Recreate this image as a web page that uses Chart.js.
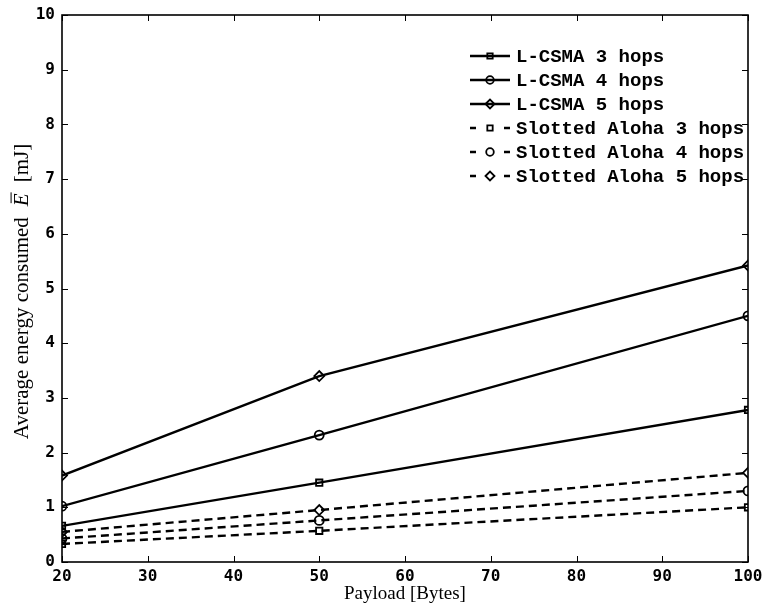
<!DOCTYPE html>
<html lang="en">

<head>
    <meta charset="UTF-8">
    <title>Average energy consumed</title>
    <script src="https://cdn.jsdelivr.net/npm/chart.js"></script>
    <style>
        html, body { margin: 0; padding: 0; background: #fff; }
        #wrap { width: 765px; height: 605px; }
    </style>
</head>

<body>
    <div id="wrap">
        <canvas id="energyChart" width="765" height="605"></canvas>
    </div>

    <script>
        // data
        const payload = [20, 50, 100];
        const csma3 = [0.66, 1.45, 2.78];
        const csma4 = [1.02, 2.32, 4.50];
        const csma5 = [1.58, 3.40, 5.42];
        const aloha3 = [0.33, 0.57, 1.00];
        const aloha4 = [0.43, 0.76, 1.30];
        const aloha5 = [0.55, 0.95, 1.63];
        const seriesNames = ['L-CSMA 3 hops', 'L-CSMA 4 hops', 'L-CSMA 5 hops',
            'Slotted Aloha 3 hops', 'Slotted Aloha 4 hops', 'Slotted Aloha 5 hops'];
        const xTicks = [20, 30, 40, 50, 60, 70, 80, 90, 100];
        const yTicks = [0, 1, 2, 3, 4, 5, 6, 7, 8, 9, 10];

        const allSeries = [csma3, csma4, csma5, aloha3, aloha4, aloha5];
        const markers = ['rect', 'circle', 'rectRot', 'rect', 'circle', 'rectRot'];

        function makeDataset(i) {
            return {
                label: seriesNames[i],
                data: payload.map((x, j) => ({ x: x, y: allSeries[i][j] })),
                borderColor: '#000',
                borderWidth: 2.4,
                borderDash: i >= 3 ? [8, 5] : [],
                pointStyle: markers[i],
                pointRadius: markers[i] === 'rectRot' ? 5 : 4.5,
                pointBorderWidth: 1.8,
                pointBorderColor: '#000',
                pointBackgroundColor: 'rgba(0,0,0,0)',
                fill: false,
                tension: 0
            };
        }

        // box around the plot and inward ticks on all four sides
        const boxPlugin = {
            id: 'box',
            afterDatasetsDraw(chart) {
                const c = chart.ctx;
                const a = chart.chartArea;
                const xs = chart.scales.x, ys = chart.scales.y;
                c.save();
                c.strokeStyle = '#000';
                c.lineWidth = 1.6;
                c.setLineDash([]);
                c.strokeRect(a.left, a.top, a.right - a.left, a.bottom - a.top);
                c.lineWidth = 1;
                c.beginPath();
                xTicks.forEach(v => {
                    const px = Math.round(xs.getPixelForValue(v)) + 0.5;
                    c.moveTo(px, a.bottom); c.lineTo(px, a.bottom - 6);
                    c.moveTo(px, a.top); c.lineTo(px, a.top + 6);
                });
                yTicks.forEach(v => {
                    const py = Math.round(ys.getPixelForValue(v)) + 0.5;
                    c.moveTo(a.left, py); c.lineTo(a.left + 6, py);
                    c.moveTo(a.right, py); c.lineTo(a.right - 6, py);
                });
                c.stroke();
                c.restore();
            }
        };

        // y title with an italic E-bar, drawn rotated beside the axis
        const yTitlePlugin = {
            id: 'yTitle',
            afterDraw(chart) {
                const c = chart.ctx;
                const a = chart.chartArea;
                const size = 21;
                const plain = size + 'px "Liberation Serif", "Times New Roman", serif';
                const ital = 'italic ' + plain;
                const parts = [
                    { t: 'Average energy consumed', f: plain },
                    { t: 'E', f: ital, bar: true },
                    { t: '[mJ]', f: plain }
                ];
                const gap = 11;
                let total = 0;
                parts.forEach(p => { c.font = p.f; p.w = c.measureText(p.t).width; total += p.w; });
                total += gap * (parts.length - 1);
                c.save();
                c.translate(22, (a.top + a.bottom) / 2 + 3);
                c.rotate(-Math.PI / 2);
                c.fillStyle = '#000';
                c.strokeStyle = '#000';
                c.textBaseline = 'middle';
                let x = -total / 2;
                parts.forEach(p => {
                    c.font = p.f;
                    c.fillText(p.t, x, 0);
                    if (p.bar) {
                        c.lineWidth = 1;
                        c.beginPath();
                        c.moveTo(x + 3, -size * 0.52);
                        c.lineTo(x + p.w + 1, -size * 0.52);
                        c.stroke();
                    }
                    x += p.w + gap;
                });
                c.restore();
            }
        };

        // legend: short line with the marker in the middle, then the name
        const legendPlugin = {
            id: 'lineLegend',
            afterDraw(chart) {
                const c = chart.ctx;
                const x0 = 470, x1 = 510, textX = 516;
                const y0 = 56, dy = 24;
                c.save();
                c.font = 'bold 19px "Liberation Mono", "Courier New", monospace';
                c.textBaseline = 'middle';
                chart.data.datasets.forEach((ds, i) => {
                    const y = y0 + i * dy;
                    c.strokeStyle = '#000';
                    c.lineWidth = 2.4;
                    c.setLineDash([]);
                    c.beginPath();
                    if (ds.borderDash.length) {
                        c.moveTo(x0, y); c.lineTo(x0 + 6, y);
                        c.moveTo(x1 - 6, y); c.lineTo(x1, y);
                    } else {
                        c.moveTo(x0, y); c.lineTo(x1, y);
                    }
                    c.stroke();
                    c.fillStyle = 'rgba(0,0,0,0)';
                    c.lineWidth = 1.8;
                    Chart.helpers.drawPoint(c, {
                        pointStyle: ds.pointStyle,
                        radius: ds.pointStyle === 'rectRot' ? 4.5 : 3.8,
                        rotation: 0,
                        borderWidth: 1.8
                    }, (x0 + x1) / 2, y);
                    c.fillStyle = '#000';
                    c.fillText(ds.label, textX, y + 1);
                });
                c.restore();
            }
        };

        const tickFont = { family: '"DejaVu Sans Mono", monospace', size: 16, weight: 'bold' };
        const titleFont = { family: '"Liberation Serif", "Times New Roman", serif', size: 19 };

        const ctx = document.getElementById('energyChart').getContext('2d');
        const energyChart = new Chart(ctx, {
            type: 'line',
            data: {
                datasets: allSeries.map((s, i) => makeDataset(i))
            },
            options: {
                responsive: false,
                animation: false,
                layout: { padding: { left: 0, top: 15, right: 17, bottom: 0 } },
                plugins: {
                    legend: { display: false },
                    tooltip: { enabled: false }
                },
                scales: {
                    x: {
                        type: 'linear',
                        min: 20,
                        max: 100,
                        afterBuildTicks: (scale) => { scale.ticks = xTicks.map(v => ({ value: v })); },
                        afterFit: (scale) => {
                            scale.height = 43;
                            scale.paddingLeft = 0;
                            scale.paddingRight = 0;
                        },
                        grid: { display: false, drawTicks: false },
                        border: { display: false },
                        ticks: { color: '#000', font: tickFont, padding: 5, maxRotation: 0 },
                        title: {
                            display: true,
                            text: 'Payload [Bytes]',
                            color: '#000',
                            font: titleFont,
                            padding: { top: 0, bottom: 0 }
                        }
                    },
                    y: {
                        min: 0,
                        max: 10,
                        afterBuildTicks: (scale) => { scale.ticks = yTicks.map(v => ({ value: v })); },
                        afterFit: (scale) => {
                            scale.width = 62;
                            scale.paddingTop = 0;
                            scale.paddingBottom = 0;
                        },
                        grid: { display: false, drawTicks: false },
                        border: { display: false },
                        ticks: { color: '#000', font: tickFont, padding: 7 }
                    }
                }
            },
            plugins: [boxPlugin, yTitlePlugin, legendPlugin]
        });
    </script>
</body>

</html>
